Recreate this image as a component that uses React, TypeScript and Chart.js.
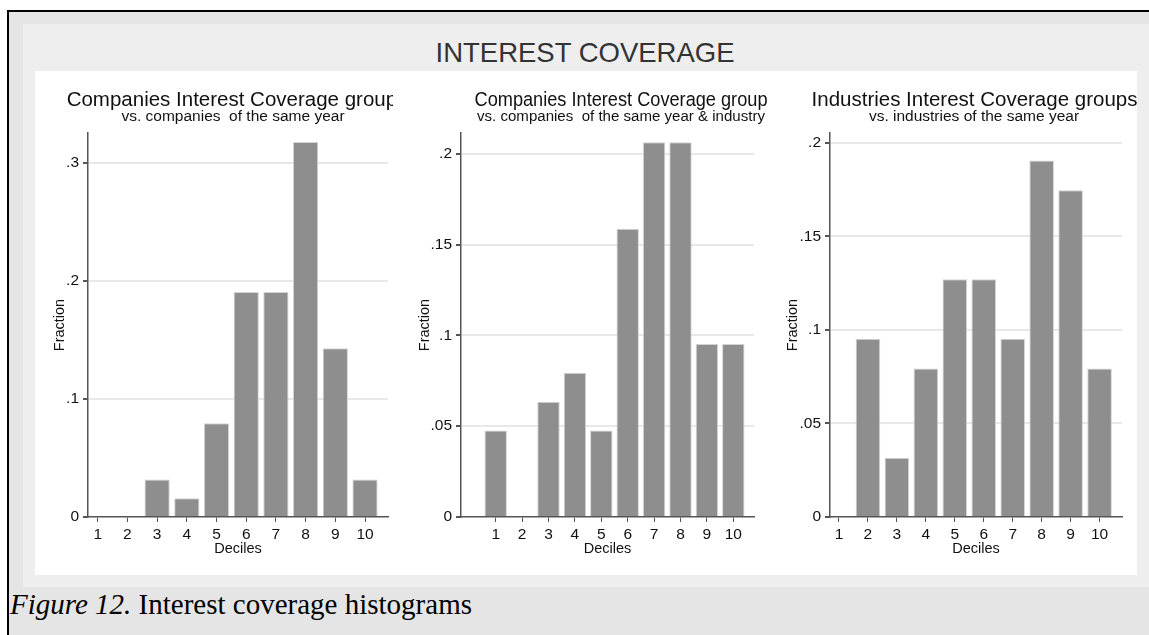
import React, { useEffect, useRef } from 'react';
import { Chart, registerables } from 'chart.js';

Chart.register(...registerables);

// ---------- data ----------
const deciles = [1, 2, 3, 4, 5, 6, 7, 8, 9, 10];
const companiesSameYear = [0, 0, 0.0317, 0.0159, 0.0794, 0.1905, 0.1905, 0.3175, 0.1429, 0.0317];
const companiesSameYearIndustry = [0.0476, 0, 0.0635, 0.0794, 0.0476, 0.1587, 0.2063, 0.2063, 0.0952, 0.0952];
const industriesSameYear = [0, 0.0952, 0.0317, 0.0794, 0.127, 0.127, 0.0952, 0.1905, 0.1746, 0.0794];
const yTicksPanel1 = [0, 0.1, 0.2, 0.3];
const yTicksPanel2 = [0, 0.05, 0.1, 0.15, 0.2];
const yTicksPanel3 = [0, 0.05, 0.1, 0.15, 0.2];
const panelTitles = [
  'Companies Interest Coverage groups',
  'Companies Interest Coverage group',
  'Industries Interest Coverage groups',
];
const panelSubtitles = [
  'vs. companies  of the same year',
  'vs. companies  of the same year & industry',
  'vs. industries of the same year',
];
const mainTitle = 'INTEREST COVERAGE';
const xAxisTitle = 'Deciles';
const yAxisTitle = 'Fraction';

const FONT = "'Liberation Sans', Arial, Helvetica, sans-serif";
const SERIF = "'Liberation Serif', 'Times New Roman', Times, serif";

// ---------- layout / style (not data) ----------
type Panel = {
  values: number[];
  yTicks: number[];
  title: string;
  subtitle: string;
  xMin: number;
  xMax: number;
  yMax: number;
  left: number;
  width: number;
  areaLeft: number;
  padRight: number;
  titleShift: number;
  subShift: number;
  titleMax?: number;
  subMax?: number;
  yTitleGap: number;
};

const panels: Panel[] = [
  {
    values: companiesSameYear, yTicks: yTicksPanel1, title: panelTitles[0], subtitle: panelSubtitles[0],
    xMin: 0.673, xMax: 10.774, yMax: 0.3251,
    left: 35, width: 358, areaLeft: 53, padRight: 5,
    titleShift: -1, subShift: -5, yTitleGap: 28,
  },
  {
    values: companiesSameYearIndustry, yTicks: yTicksPanel2, title: panelTitles[1], subtitle: panelSubtitles[1],
    xMin: -0.314, xMax: 10.784, yMax: 0.2114,
    left: 393, width: 377, areaLeft: 68, padRight: 16,
    titleShift: 13.5, subShift: 13.5, titleMax: 293, subMax: 288, yTitleGap: 36,
  },
  {
    values: industriesSameYear, yTicks: yTicksPanel3, title: panelTitles[2], subtitle: panelSubtitles[2],
    xMin: 0.69, xMax: 10.775, yMax: 0.2052,
    left: 770, width: 367, areaLeft: 60, padRight: 15,
    titleShift: -1.5, subShift: -2, yTitleGap: 37,
  },
];

const fmt = (v: number) => {
  if (v === 0) return '0';
  return String(Number(v.toFixed(4))).replace(/^0\./, '.');
};

const makeTextPlugin = (p: Panel) => ({
  id: 'panelText',
  afterDraw(chart: any) {
    const { ctx, chartArea: a } = chart;
    const cx = (a.left + a.right) / 2;
    ctx.save();
    ctx.fillStyle = '#111';
    ctx.textAlign = 'center';
    ctx.textBaseline = 'alphabetic';
    ctx.font = `20.5px ${FONT}`;
    if (p.titleMax) ctx.fillText(p.title, cx + p.titleShift, 35, p.titleMax);
    else ctx.fillText(p.title, cx + p.titleShift, 35);
    ctx.font = `15.5px ${FONT}`;
    if (p.subMax) ctx.fillText(p.subtitle, cx + p.subShift, 50, p.subMax);
    else ctx.fillText(p.subtitle, cx + p.subShift, 50);
    ctx.font = `14.5px ${FONT}`;
    ctx.textBaseline = 'middle';
    ctx.fillText(xAxisTitle, cx, a.bottom + 32);
    ctx.translate(a.left - p.yTitleGap, (a.top + a.bottom) / 2);
    ctx.rotate(-Math.PI / 2);
    ctx.fillText(yAxisTitle, 0, 0);
    ctx.restore();
  },
});

function HistPanel({ p }: { p: Panel }) {
  const ref = useRef<HTMLCanvasElement | null>(null);
  useEffect(() => {
    if (!ref.current) return;
    const chart = new Chart(ref.current, {
      type: 'bar',
      data: {
        datasets: [
          {
            data: deciles.map((d, i) => ({ x: d, y: p.values[i] })) as any,
            backgroundColor: '#8e8e8e',
            borderColor: '#d4d4d4',
            borderWidth: 1,
            barPercentage: 0.85,
            categoryPercentage: 1,
          },
        ],
      },
      options: {
        animation: false,
        responsive: false,
        maintainAspectRatio: false,
        devicePixelRatio: 1,
        events: [],
        layout: { padding: { top: 62, right: p.padRight, left: 0, bottom: 0 } },
        plugins: { legend: { display: false }, tooltip: { enabled: false }, title: { display: false } },
        scales: {
          x: {
            type: 'linear',
            min: p.xMin,
            max: p.xMax,
            offset: false,
            afterBuildTicks: (s: any) => {
              s.ticks = deciles.map((v) => ({ value: v }));
            },
            afterFit: (s: any) => {
              s.height = 58;
            },
            grid: { display: true, drawOnChartArea: false, drawTicks: true, tickLength: 5, tickColor: '#555', offset: false },
            border: { display: true, color: '#555', width: 1.5 },
            ticks: {
              autoSkip: false,
              maxRotation: 0,
              padding: 3,
              color: '#111',
              font: { family: FONT, size: 15.5 },
              callback: (v: any) => String(v),
            },
          },
          y: {
            type: 'linear',
            min: 0,
            max: p.yMax,
            afterBuildTicks: (s: any) => {
              s.ticks = p.yTicks.map((v) => ({ value: v }));
            },
            afterFit: (s: any) => {
              s.width = p.areaLeft;
            },
            grid: {
              color: (c: any) => (c.tick && c.tick.value === 0 ? 'rgba(0,0,0,0)' : '#e8e8e8'),
              lineWidth: 2,
              drawTicks: true,
              tickLength: 5,
              tickColor: '#555',
            },
            border: { display: true, color: '#555', width: 1.5 },
            ticks: {
              padding: 4,
              color: '#111',
              font: { family: FONT, size: 15.5 },
              callback: (v: any) => fmt(Number(v)),
            },
          },
        },
      } as any,
      plugins: [makeTextPlugin(p)],
    });
    return () => chart.destroy();
  }, [p]);
  return (
    <canvas
      ref={ref}
      width={p.width}
      height={504}
      style={{ position: 'absolute', left: p.left, top: 71, width: p.width, height: 504 }}
    />
  );
}

export default function App() {
  return (
    <div style={{ position: 'absolute', left: 0, top: 0, width: 1149, height: 635, background: '#fff', overflow: 'hidden' }}>
      <div
        style={{
          position: 'absolute', left: 7, top: 10, right: 0, bottom: 0,
          background: '#e5e5e5', borderTop: '2px solid #000', borderLeft: '2px solid #000',
        }}
      />
      <div style={{ position: 'absolute', left: 23, top: 24, width: 1126, height: 563, background: '#eeeeee' }} />
      <div style={{ position: 'absolute', left: 35, top: 71, width: 1102, height: 504, background: '#ffffff' }} />
      <div
        style={{
          position: 'absolute', left: 385, top: 39, width: 400, textAlign: 'center',
          font: `27.5px/1 ${FONT}`, color: '#333', whiteSpace: 'nowrap',
        }}
      >
        {mainTitle}
      </div>
      {panels.map((p, i) => (
        <HistPanel key={i} p={p} />
      ))}
      <div
        style={{
          position: 'absolute', left: 10, top: 590, font: `29px/1 ${SERIF}`, color: '#000', whiteSpace: 'nowrap',
        }}
      >
        <i>Figure 12.</i> Interest coverage histograms
      </div>
    </div>
  );
}
